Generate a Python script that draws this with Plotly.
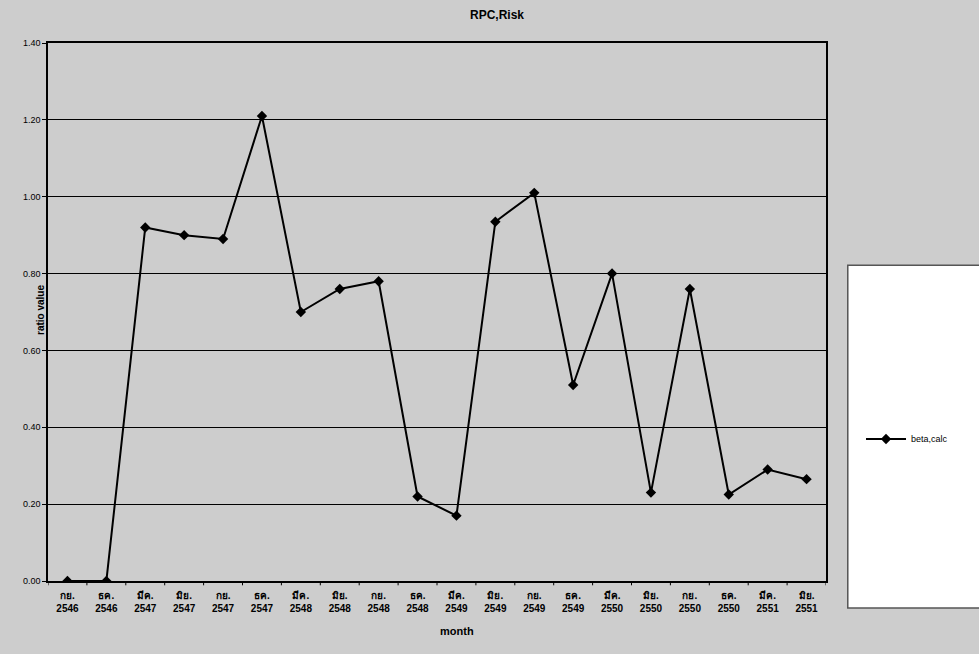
import plotly.graph_objects as go

months = ["กย.", "ธค.", "มีค.", "มิย.", "กย.", "ธค.", "มีค.", "มิย.", "กย.", "ธค.",
          "มีค.", "มิย.", "กย.", "ธค.", "มีค.", "มิย.", "กย.", "ธค.", "มีค.", "มิย."]
years = ["2546", "2546", "2547", "2547", "2547", "2547", "2548", "2548", "2548", "2548",
         "2549", "2549", "2549", "2549", "2550", "2550", "2550", "2550", "2551", "2551"]
beta_calc = [0.00, 0.00, 0.92, 0.90, 0.89, 1.21, 0.70, 0.76, 0.78, 0.22,
             0.17, 0.935, 1.01, 0.51, 0.80, 0.23, 0.76, 0.225, 0.29, 0.265]
y_ticks = [0.0, 0.2, 0.4, 0.6, 0.8, 1.0, 1.2, 1.4]

cats = [f"<b>{m}</b><br><b>{y}</b>" for m, y in zip(months, years)]
idx = list(range(len(cats)))

bg = "#cdcdcd"
font = "Liberation Sans, Arial, Noto Sans, sans-serif"

fig = go.Figure()
fig.add_trace(go.Scatter(
    x=idx, y=beta_calc, mode="lines+markers", name="beta,calc",
    line=dict(color="black", width=2),
    marker=dict(symbol="diamond", size=8, color="black"),
))

fig.update_layout(
    width=979, height=654,
    margin=dict(l=48, r=153, t=43, b=73),
    paper_bgcolor=bg, plot_bgcolor=bg,
    font=dict(family=font, color="black", size=9),
    title=dict(text="<b>RPC,Risk</b>", x=497 / 979, xanchor="center",
               y=1 - 15 / 654, yanchor="middle", font=dict(size=12)),
    showlegend=True,
    legend=dict(x=1.045, y=0.264, xanchor="left", yanchor="middle",
                bgcolor="rgba(0,0,0,0)", borderwidth=0, font=dict(size=9),
                itemwidth=40),
    xaxis=dict(
        tickmode="array", tickvals=idx, ticktext=cats,
        range=[-0.5, len(cats) - 0.5],
        showline=True, linecolor="black", linewidth=1.5, mirror=True,
        showgrid=False, ticks="", zeroline=False,
        tickfont=dict(size=10), ticklabelstandoff=4,
    ),
    yaxis=dict(
        range=[0, 1.4], tickvals=y_ticks,
        tickformat=".2f",
        showline=True, linecolor="black", linewidth=1.5, mirror=True,
        showgrid=True, gridcolor="black", gridwidth=1,
        ticks="outside", ticklen=4, tickcolor="black",
        zeroline=False, tickfont=dict(size=9),
    ),
    annotations=[
        dict(text="<b>ratio value</b>", textangle=-90, xref="paper", yref="paper",
             x=(40 - 48) / 778, y=(581 - 310) / 538, xanchor="center", yanchor="middle",
             showarrow=False, font=dict(size=10)),
        dict(text="<b>month</b>", xref="paper", yref="paper",
             x=(457 - 48) / 778, y=(581 - 631) / 538, xanchor="center", yanchor="middle",
             showarrow=False, font=dict(size=11)),
    ],
)

# x ticks between categories
for i in range(len(cats) + 1):
    fig.add_shape(type="line", xref="x", yref="paper",
                  x0=i - 0.5, x1=i - 0.5, y0=0, y1=-0.008,
                  line=dict(color="black", width=1))

# legend box
fig.add_shape(type="rect", xref="paper", yref="paper",
              x0=1.028, x1=1.2, y0=-0.05, y1=0.587,
              fillcolor="white", line=dict(color="#555555", width=1.5),
              layer="below")

fig.write_html("out.html", config={"displayModeBar": False},
               post_script="document.body.style.margin='0';document.body.style.overflow='hidden';")
